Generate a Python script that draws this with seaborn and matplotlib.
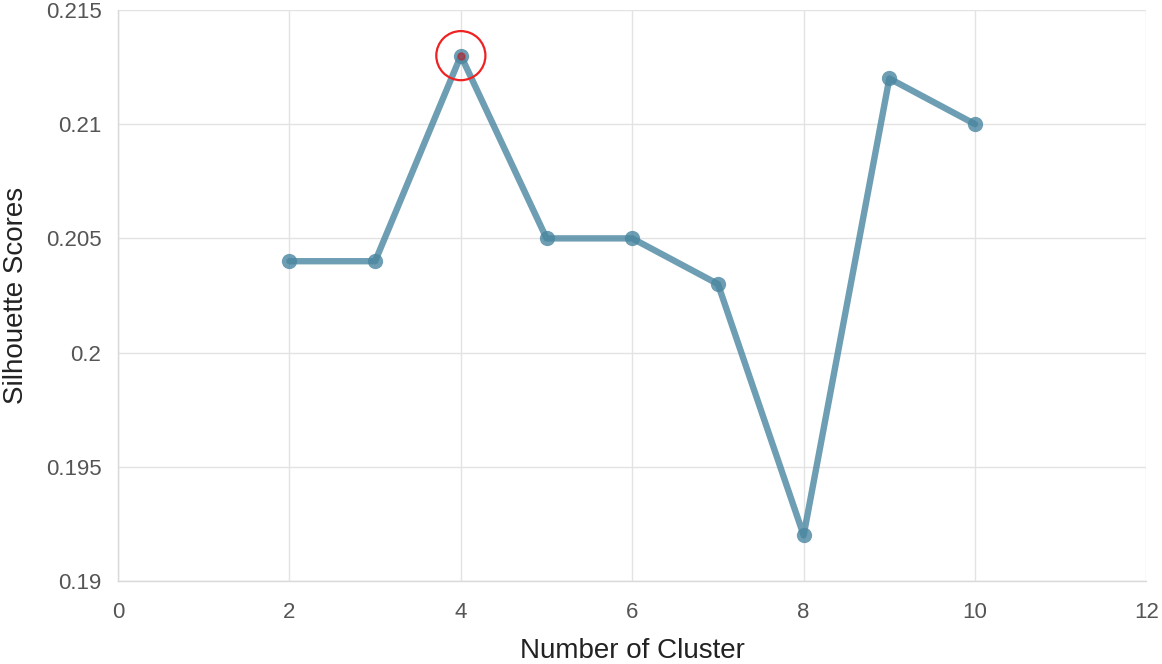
import numpy as np
import pandas as pd
import matplotlib.pyplot as plt
import seaborn as sns

# Data
n_clusters = [2, 3, 4, 5, 6, 7, 8, 9, 10]
silhouette = [0.204, 0.204, 0.213, 0.205, 0.205, 0.203, 0.192, 0.212, 0.210]
best_k = 4
best_score = 0.213

x_ticks = [0, 2, 4, 6, 8, 10, 12]
y_ticks = [0.19, 0.195, 0.2, 0.205, 0.21, 0.215]
y_tick_labels = ["0.19", "0.195", "0.2", "0.205", "0.21", "0.215"]

sns.set_style("white")
plt.rcParams["font.family"] = ["Liberation Sans", "DejaVu Sans"]

df = pd.DataFrame({"k": n_clusters, "score": silhouette})

fig = plt.figure(figsize=(11.62, 6.64), dpi=100)
ax = fig.add_axes([0.1016, 0.125, 0.885, 0.86])

line_color = "#4a86a0"
sns.lineplot(data=df, x="k", y="score", ax=ax, color=line_color, lw=4.6,
             alpha=0.8, marker="o", markersize=11, markeredgewidth=0,
             zorder=3)

# highlight the best k
ax.scatter([best_k], [best_score], s=25, color="#c0202a", alpha=0.6, zorder=4)
ax.scatter([best_k], [best_score], s=1250, facecolors="none",
           edgecolors="#ee2222", linewidths=1.6, zorder=5)

ax.set_xlim(0, 12)
ax.set_ylim(0.19, 0.215)
ax.set_xticks(x_ticks)
ax.set_yticks(y_ticks)
ax.set_yticklabels(y_tick_labels)
ax.grid(True, color="#e3e3e3", lw=1)
ax.set_axisbelow(True)

for side in ["top", "right"]:
    ax.spines[side].set_visible(False)
for side in ["left", "bottom"]:
    ax.spines[side].set_color("#d9d9d9")
    ax.spines[side].set_linewidth(1)

ax.tick_params(axis="both", length=0, labelsize=16, labelcolor="#555555")
ax.tick_params(axis="x", pad=15)
ax.tick_params(axis="y", pad=12)
ax.set_xlabel("Number of Cluster", fontsize=20, color="#222222", labelpad=11)
ax.set_ylabel("Silhouette Scores", fontsize=20, color="#222222", labelpad=12)

fig.savefig("out.png", dpi=100)
plt.close(fig)
